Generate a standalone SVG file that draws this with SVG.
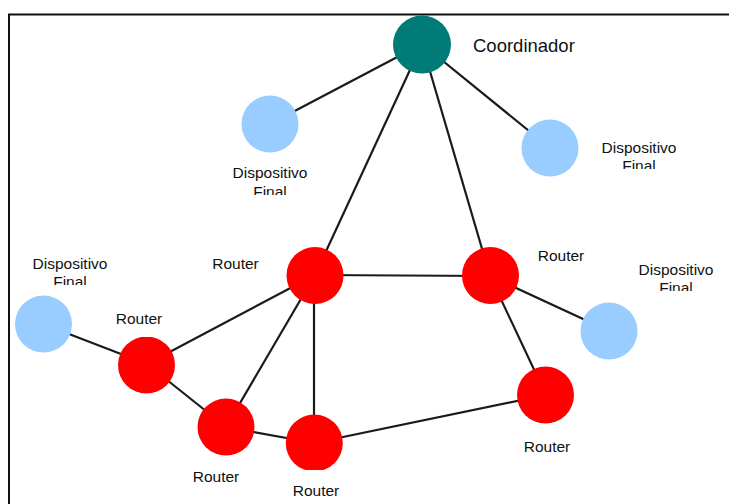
<svg xmlns="http://www.w3.org/2000/svg" width="729" height="504" viewBox="0 0 729 504">
<style>
.edge{stroke:#1a1a1a;stroke-width:2.2;fill:none}
.coord{fill:#007b78}
.router{fill:#ff0000}
.dev{fill:#99ccff}
text{font-family:"Liberation Sans",Arial,sans-serif;font-size:15.5px;fill:#111}
.big{font-size:18.5px}
.mid{text-anchor:middle}
</style>
<defs>
<clipPath id="c1"><rect x="200" y="160" width="140" height="35"/></clipPath>
<clipPath id="c2"><rect x="580" y="135" width="130" height="34"/></clipPath>
<clipPath id="c3"><rect x="20" y="250" width="110" height="35"/></clipPath>
<clipPath id="c4"><rect x="620" y="255" width="109" height="36"/></clipPath>
<clipPath id="crl"><rect x="100" y="337" width="100" height="70"/></clipPath>
<clipPath id="crb"><rect x="270" y="400" width="100" height="70"/></clipPath>
</defs>
<rect x="0" y="0" width="729" height="504" fill="#ffffff"/>
<path d="M9 504 V14.5 H729" stroke="#111" stroke-width="2" fill="none"/>
<g id="connectors">
<line class="edge" x1="422" y1="44" x2="270" y2="124"/>
<line class="edge" x1="422" y1="44" x2="550" y2="148"/>
<line class="edge" x1="422" y1="44" x2="315" y2="275"/>
<line class="edge" x1="422" y1="44" x2="490" y2="276"/>
<line class="edge" x1="315" y1="275" x2="490" y2="276"/>
<line class="edge" x1="490" y1="276" x2="609" y2="331"/>
<line class="edge" x1="490" y1="276" x2="546" y2="395"/>
<line class="edge" x1="546" y1="395" x2="314" y2="443"/>
<line class="edge" x1="315" y1="275" x2="147" y2="364"/>
<line class="edge" x1="315" y1="275" x2="226" y2="427"/>
<line class="edge" x1="314" y1="275" x2="314" y2="443"/>
<line class="edge" x1="43" y1="324" x2="147" y2="364"/>
<line class="edge" x1="147" y1="364" x2="226" y2="427"/>
<line class="edge" x1="226" y1="427" x2="314" y2="443"/>
</g>
<g id="coordinador">
<circle class="coord" cx="422" cy="44.5" r="29"/>
<text class="big" x="473" y="52">Coordinador</text>
</g>
<g id="disp1">
<circle class="dev" cx="270" cy="124" r="28.5"/>
<text class="mid" x="270" y="178">Dispositivo</text>
<text class="mid" x="270" y="197" clip-path="url(#c1)">Final</text>
</g>
<g id="disp2">
<circle class="dev" cx="550" cy="148" r="28.5"/>
<text class="mid" x="639" y="153">Dispositivo</text>
<text class="mid" x="639" y="171" clip-path="url(#c2)">Final</text>
</g>
<g id="disp3">
<circle class="dev" cx="43.5" cy="324" r="28.5"/>
<text class="mid" x="70" y="269">Dispositivo</text>
<text class="mid" x="70" y="287" clip-path="url(#c3)">Final</text>
</g>
<g id="disp4">
<circle class="dev" cx="609" cy="331" r="28.5"/>
<text class="mid" x="676" y="275">Dispositivo</text>
<text class="mid" x="676" y="293" clip-path="url(#c4)">Final</text>
</g>
<g id="router1">
<circle class="router" cx="315" cy="275.5" r="28.5"/>
<text class="mid" x="235.5" y="269">Router</text>
</g>
<g id="router2">
<circle class="router" cx="490.5" cy="275.5" r="28.5"/>
<text class="mid" x="561" y="261">Router</text>
</g>
<g id="router3">
<circle class="router" cx="146.5" cy="365" r="28.5" clip-path="url(#crl)"/>
<text class="mid" x="139" y="324">Router</text>
</g>
<g id="router4">
<circle class="router" cx="226" cy="427" r="28.5"/>
<text class="mid" x="216" y="482">Router</text>
</g>
<g id="router5">
<circle class="router" cx="314.3" cy="443" r="28.5" clip-path="url(#crb)"/>
<text class="mid" x="316" y="496">Router</text>
</g>
<g id="router6">
<circle class="router" cx="545.5" cy="395" r="28.5"/>
<text class="mid" x="547" y="452">Router</text>
</g>
</svg>
